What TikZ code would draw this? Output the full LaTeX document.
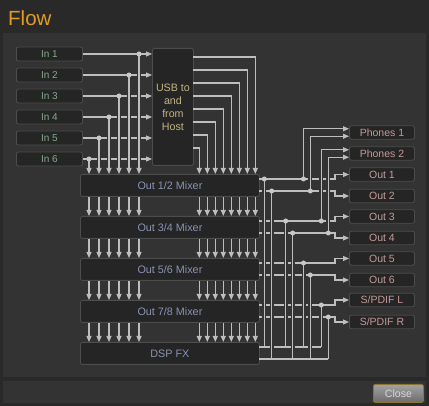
\documentclass[tikz,border=0pt]{standalone}
\usepackage{fontspec}
\setmainfont{Liberation Sans}
\usetikzlibrary{arrows.meta}
\definecolor{outerbg}{HTML}{292929}
\definecolor{panel}{HTML}{333333}
\definecolor{boxfill}{HTML}{252525}
\definecolor{boxline}{HTML}{4C4C4C}
\definecolor{wire}{HTML}{BEBEBE}
\definecolor{dotcol}{HTML}{C8C8C8}
\definecolor{intext}{HTML}{86A88A}
\definecolor{usbtext}{HTML}{C3B385}
\definecolor{mixtext}{HTML}{8A93B3}
\definecolor{outtext}{HTML}{C49A9A}
\definecolor{titlecol}{HTML}{E29C24}
\definecolor{closeborder}{HTML}{8C7434}
\definecolor{closetop}{HTML}{A2A2A2}
\definecolor{closebot}{HTML}{6C6C6C}
\definecolor{closetext}{HTML}{D6D6D6}
\begin{document}
\begin{tikzpicture}[x=1pt,y=-1pt,
  box/.style={draw=boxline, fill=boxfill, rounded corners=2pt, line width=0.9pt, inner sep=0pt},
  inbox/.style={box, anchor=west, minimum width=66pt, minimum height=14pt, text=intext, font=\fontsize{10}{12}\selectfont},
  outbox/.style={box, anchor=west, minimum width=65pt, minimum height=13.5pt, text=outtext, font=\fontsize{10.5}{12}\selectfont},
  mixbox/.style={box, anchor=north west, minimum width=179pt, minimum height=22pt, text=mixtext, font=\fontsize{10.8}{12}\selectfont},
  wireline/.style={draw=wire, line width=1.1pt},
  arr/.style={wireline, -{Triangle[length=6pt,width=5pt]}},
  halo/.style={draw=panel, line width=4pt},
  jdot/.style={circle, fill=dotcol, inner sep=0pt, minimum size=5pt}
]
\useasboundingbox (0,0) rectangle (429,406);
\fill[outerbg] (0,0) rectangle (429,406);
\fill[panel] (3,33) rectangle (426,377);
\fill[panel] (3,381) rectangle (426,403);
\node[anchor=base west, inner sep=0pt, text=titlecol, font=\fontsize{20.5}{24}\selectfont] (title) at (8,25.7) {Flow};
\node[draw=closeborder, line width=0.8pt, rounded corners=1.5pt, top color=closetop, bottom color=closebot, anchor=north west, minimum width=50pt, minimum height=18pt, inner sep=0pt, text=closetext, font=\fontsize{10.6}{12}\selectfont] (close) at (373,384) {Close};

% inputs
\foreach \k/\y in {1/54,2/75,3/96,4/117,5/138,6/159}
  \node[inbox] (in\k) at (16,\y) {In \k};
% usb
\node[box, anchor=north west, minimum width=41pt, minimum height=117pt, text=usbtext, align=center, font=\fontsize{10.7}{13}\selectfont] (usb) at (152,48) {USB to\\and\\from\\Host};
% mixers
\node[mixbox] (mix12) at (80,174) {Out 1/2 Mixer};
\node[mixbox] (mix34) at (80,216) {Out 3/4 Mixer};
\node[mixbox] (mix56) at (80,258) {Out 5/6 Mixer};
\node[mixbox] (mix78) at (80,300) {Out 7/8 Mixer};
\node[mixbox] (dsp) at (80,342) {DSP FX};
% outputs
\node[outbox] (ph1) at (349,132.5) {Phones 1};
\node[outbox] (ph2) at (349,153.5) {Phones 2};
\node[outbox] (out1) at (349,174.5) {Out 1};
\node[outbox] (out2) at (349,196) {Out 2};
\node[outbox] (out3) at (349,216.5) {Out 3};
\node[outbox] (out4) at (349,238) {Out 4};
\node[outbox] (out5) at (349,258.5) {Out 5};
\node[outbox] (out6) at (349,280) {Out 6};
\node[outbox] (spl) at (349,300) {S/PDIF L};
\node[outbox] (spr) at (349,322) {S/PDIF R};

% ---- horizontal wires ----
\foreach \k in {1,...,6}
  \draw[arr] (in\k.east) -- (in\k.east -| usb.west);
% usb outputs
\foreach \i in {0,...,7} {
  \pgfmathsetmacro{\uy}{57+13*\i}
  \pgfmathsetmacro{\ux}{255.3-8*\i}
  \coordinate (uo\i) at (193,\uy);
  \coordinate (ud\i) at (\ux,174);
  \draw[arr] (uo\i) -| (ud\i);
}
% mixer output lines
\foreach \m/\t/\a/\b in {mix12/174/out1/out2, mix34/216/out3/out4, mix56/258/out5/out6, mix78/300/spl/spr} {
  \pgfmathsetmacro{\yl}{\t+5}
  \pgfmathsetmacro{\yr}{\t+17}
  \coordinate (\m L) at (259,\yl);
  \coordinate (\m R) at (259,\yr);
  \coordinate (\m Ls) at (335,\yl);
  \coordinate (\m Rs) at (335,\yr);
  \draw[arr] (\m L) -- (\m Ls) |- (\a.west);
  \draw[arr] (\m R) -- (\m Rs) |- (\b.west);
}
% dsp input lines
\coordinate (dL) at (259,347);
\coordinate (dR) at (259,359);
\coordinate (dLe) at (321.3,347);
\coordinate (dRe) at (328.3,359);
\draw[wireline] (dLe) -- (dL);
\draw[wireline] (dRe) -- (dR);

% ---- halos (gaps in crossed lines) ----
\foreach \k/\y in {1/54,2/75,3/96,4/117,5/138} {
  \pgfmathsetmacro{\jx}{149-10*\k}
  \draw[halo] (\jx,\y+3) -- (\jx,163);
}
\foreach \x/\ya/\yb in {264.3/179/347, 271.7/191/359, 285.7/221/347, 292.7/233/359, 303.5/263/347, 310.3/275/359, 321.3/305/347, 328.3/317/359}
  \draw[halo] (\x,\ya+3) -- (\x,\yb-3);
\foreach \x/\ya/\yb in {303.5/179/128.75, 310.3/191/136.25, 321.3/221/149.75, 328.3/233/157.25}
  \draw[halo] (\x,\ya-3) -- (\x,\yb+3);

% ---- vertical wires ----
\foreach \k/\y in {1/54,2/75,3/96,4/117,5/138,6/159} {
  \coordinate (ij\k) at ({149-10*\k},\y);
  \draw[arr] (ij\k) -- (ij\k |- mix12.north);
}
\foreach \a/\b in {mix12/mix34, mix34/mix56, mix56/mix78, mix78/dsp}
  \foreach \x in {89,99,109,119,129,139,199.3,207.3,215.3,223.3,231.3,239.3,247.3,255.3}
    \draw[arr] (\x,0 |- \a.south) -- (\x,0 |- \b.north);
% down to dsp
\foreach \n/\x/\ya/\yb in {a/264.3/179/347, b/271.7/191/359, c/285.7/221/347, d/292.7/233/359, e/303.5/263/347, f/310.3/275/359, g/321.3/305/347, h/328.3/317/359} {
  \coordinate (dj\n) at (\x,\ya);
  \coordinate (de\n) at (\x,\yb);
  \draw[wireline] (dj\n) -- (de\n);
}
% up to phones
\foreach \n/\x/\ya/\p/\o in {a/303.5/179/ph1/-3.75, b/310.3/191/ph1/3.75, c/321.3/221/ph2/-3.75, d/328.3/233/ph2/3.75} {
  \coordinate (pj\n) at (\x,\ya);
  \coordinate (pe\n) at ([yshift=-\o pt]\p.west);
  \draw[arr] (pj\n) |- (pe\n);
}
% ---- dots ----
\foreach \k in {1,...,6} \node[jdot] at (ij\k) {};
\foreach \n in {a,...,h} \node[jdot] at (dj\n) {};
\foreach \n in {a,...,d} \node[jdot] at (pj\n) {};
\end{tikzpicture}
\end{document}
